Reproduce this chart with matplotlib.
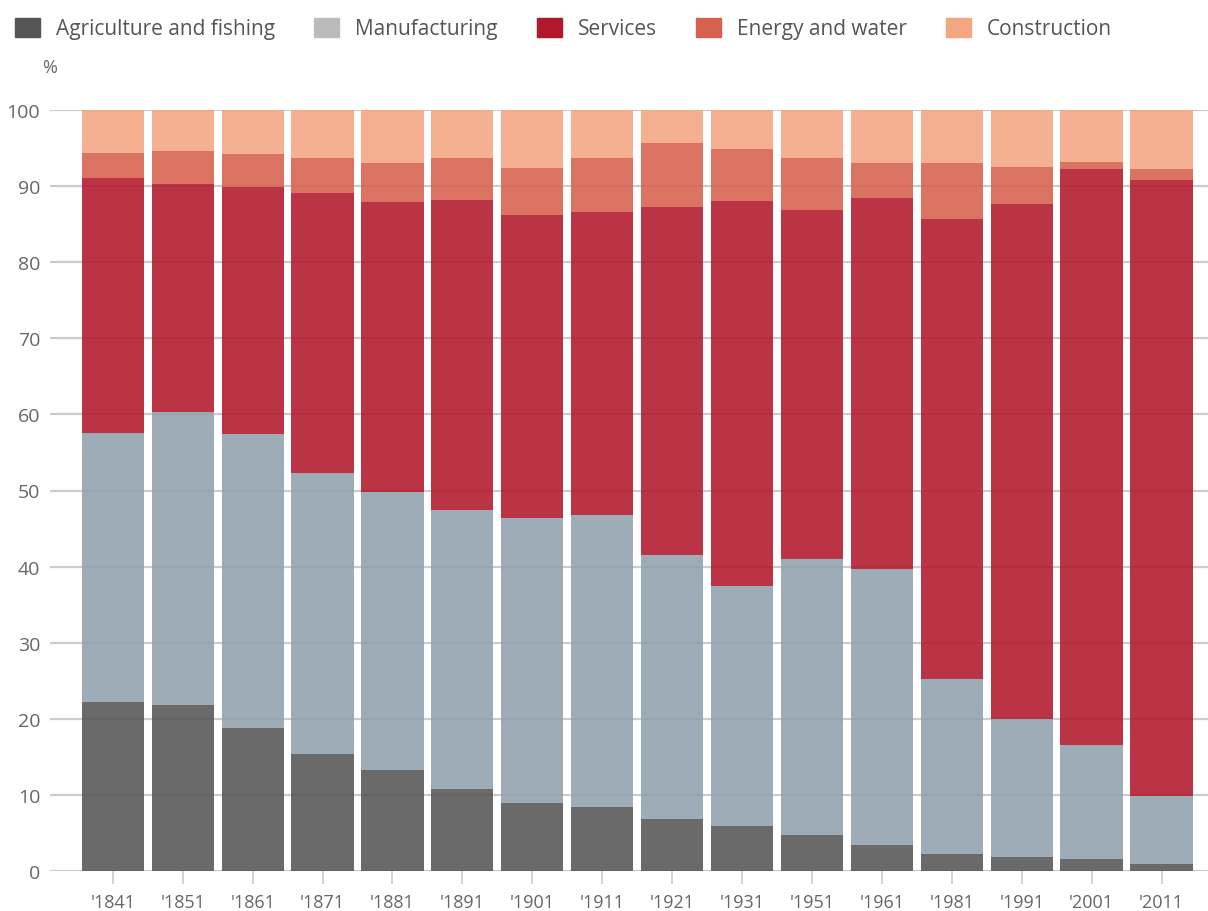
import numpy as np
import matplotlib
matplotlib.use('Agg')
import matplotlib.pyplot as plt

plt.rcParams['font.family'] = ['Open Sans', 'DejaVu Sans']

years = ["'1841", "'1851", "'1861", "'1871", "'1881", "'1891", "'1901", "'1911",
         "'1921", "'1931", "'1951", "'1961", "'1981", "'1991", "'2001", "'2011"]

# shares in %
agriculture = [22.2, 21.8, 18.8, 15.4, 13.3, 10.8, 8.9, 8.4, 6.8, 5.9, 4.7, 3.4, 2.2, 1.8, 1.6, 0.9]
manufacturing = [35.4, 38.5, 38.6, 36.9, 36.5, 36.6, 37.5, 38.4, 34.7, 31.5, 36.3, 36.3, 23.0, 18.2, 15.0, 9.0]
services = [33.5, 30.0, 32.5, 36.8, 38.1, 40.8, 39.8, 39.8, 45.8, 50.6, 45.8, 48.7, 60.5, 67.7, 75.7, 80.9]
energy = [3.3, 4.3, 4.3, 4.6, 5.1, 5.5, 6.2, 7.1, 8.4, 6.9, 6.9, 4.6, 7.3, 4.8, 0.9, 1.5]
construction = [100 - a - m - s - e for a, m, s, e in zip(agriculture, manufacturing, services, energy)]

series = [agriculture, manufacturing, services, energy, construction]
names = ['Agriculture and fishing', 'Manufacturing', 'Services', 'Energy and water', 'Construction']
legend_colors = ['#555555', '#bbbbbb', '#b2182b', '#d6604d', '#f4a582']
bar_colors = ['#555555', '#91a1ae', '#b2182b', '#d6604d', '#f4a582']

fig = plt.figure(figsize=(12.08, 9.12), dpi=100)
ax = fig.add_axes([50 / 1208, 1 - 872 / 912, 1158 / 1208, 761 / 912])

x = np.arange(len(years))
bottom = np.zeros(len(years))
for vals, col in zip(series, bar_colors):
    ax.bar(x, vals, bottom=bottom, width=0.89, color=col, alpha=0.88, linewidth=0, zorder=2)
    bottom += np.array(vals)

ax.set_ylim(0, 100)
ax.set_xlim(-0.898, 15.665)
ax.set_yticks(np.arange(0, 101, 10))
ax.set_xticks(x)
ax.set_xticklabels(years)
ax.yaxis.grid(True, color='#cccccc', linewidth=1.6, zorder=1)
ax.set_axisbelow(True)
for s in ax.spines.values():
    s.set_visible(False)
ax.tick_params(axis='y', length=0, pad=7, labelsize=14, labelcolor='#666666')
ax.tick_params(axis='x', length=9, width=1.2, color='#cccccc', pad=7, labelsize=13, labelcolor='#666666')

fig.text(50 / 1208, 1 - 68 / 912, '%', fontsize=13, color='#666666', ha='center', va='center')

handles = [plt.Rectangle((0, 0), 1, 1, color=c) for c in legend_colors]
fig.legend(handles, names, loc='upper left', bbox_to_anchor=(15 / 1208, 1 - 19 / 912),
           ncol=5, frameon=False, fontsize=15, handlelength=1.2, handleheight=1.0,
           handletextpad=0.75, columnspacing=1.9, borderpad=0, borderaxespad=0,
           labelcolor='#555555')

fig.savefig('out.png', dpi=100)
